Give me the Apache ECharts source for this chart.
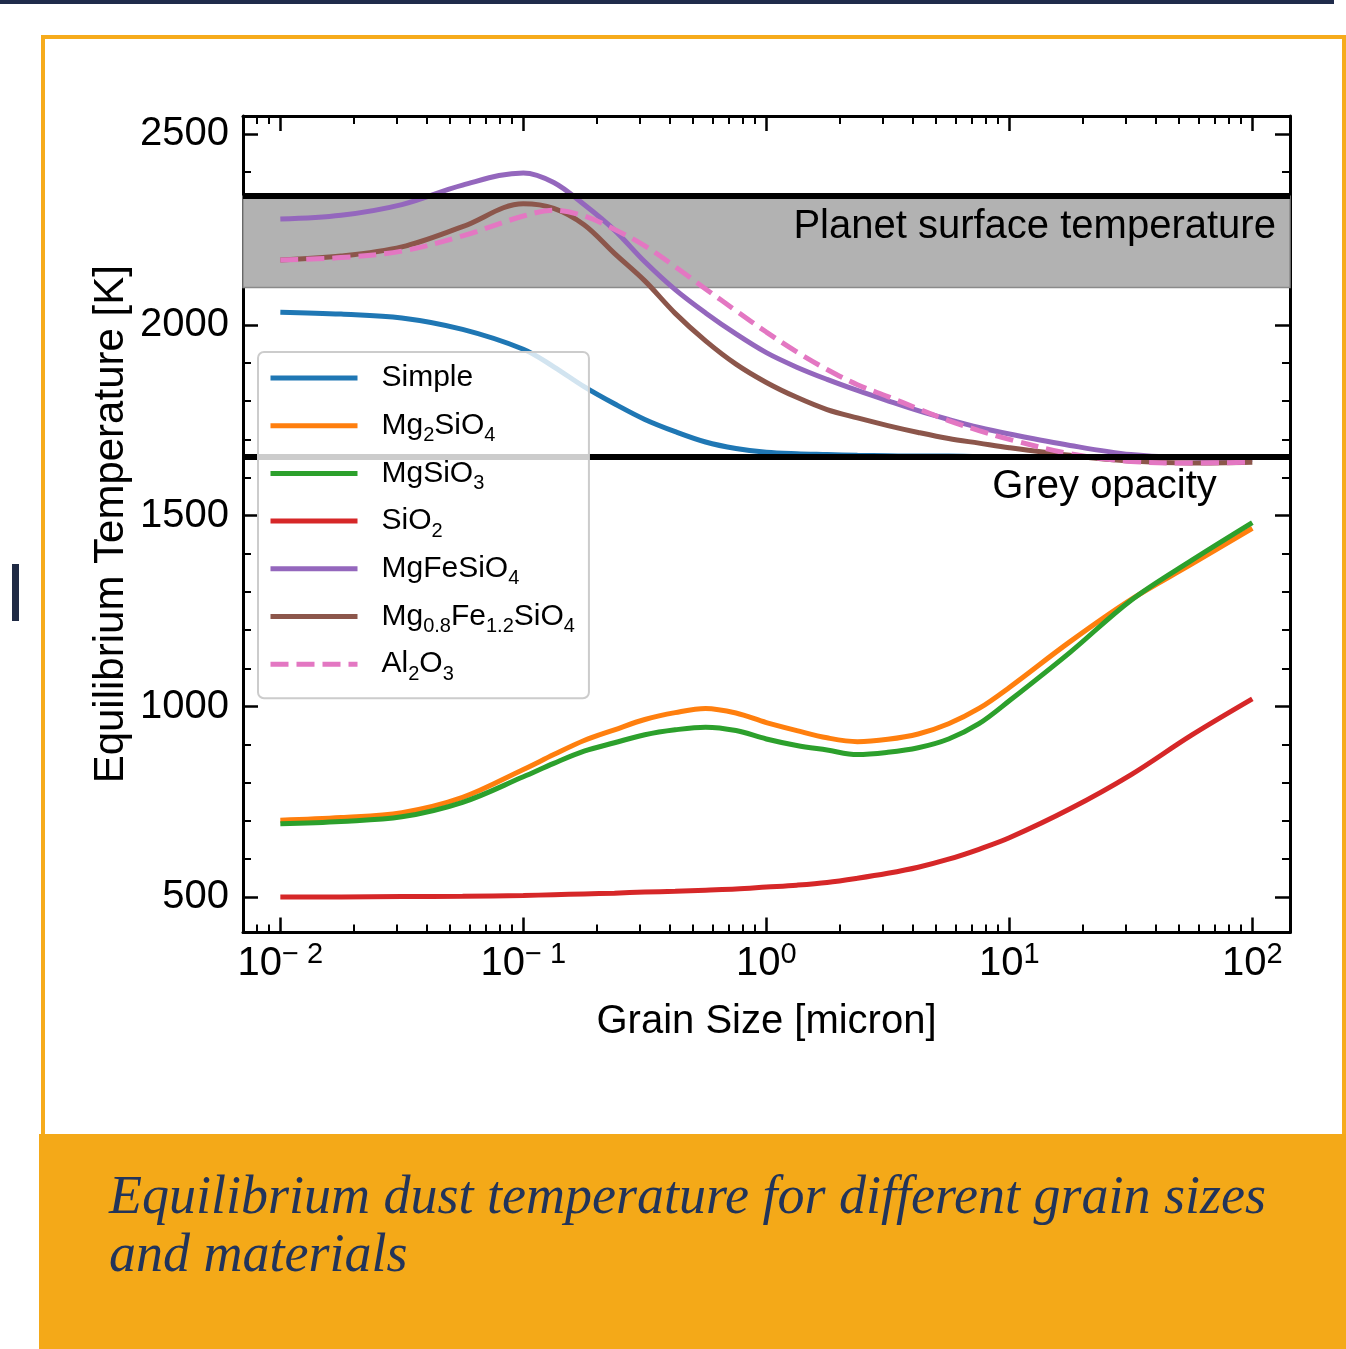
<!DOCTYPE html>
<html><head><meta charset="utf-8">
<script src="https://cdn.jsdelivr.net/npm/echarts@6/dist/echarts.min.js"></script>
<style>
html,body{margin:0;padding:0;background:#fff;}
#page{position:relative;width:1346px;height:1349px;overflow:hidden;background:#fff;}
#topbar{position:absolute;left:0;top:0;width:1334px;height:4px;background:#1f2b4b;}
#sidebar{position:absolute;left:12px;top:564px;width:7px;height:57px;background:#1f2a44;}
#frame{position:absolute;left:41px;top:35px;width:1305px;height:1100px;box-sizing:border-box;border:4px solid #f6ab1c;border-bottom:none;}
#caption{position:absolute;left:39px;top:1134px;width:1307px;height:215px;background:#f4a918;}
#captext{position:absolute;left:70px;top:32px;font-family:"Liberation Serif",serif;font-style:italic;font-size:54px;line-height:58px;color:#22345a;white-space:nowrap;}
#chart{position:absolute;left:0;top:0;width:1346px;height:1349px;}
</style></head>
<body><div id="page">
<div id="topbar"></div><div id="sidebar"></div><div id="frame"></div>
<div id="caption"><div id="captext">Equilibrium dust temperature for different grain sizes<br>and materials</div></div>
<div id="chart"></div>
</div>
<script>
const grainSize = [0.01, 0.01778, 0.03162, 0.05623, 0.1, 0.1334, 0.1778, 0.2371, 0.3162, 0.4217, 0.5623, 0.7499, 1, 1.334, 1.778, 2.371, 3.162, 4.217, 5.623, 7.499, 10, 17.78, 31.62, 56.23, 100];
const simple       = [2033, 2028, 2018, 1988, 1936, 1890, 1838, 1793, 1752, 1720, 1693, 1676, 1666, 1662, 1660, 1658, 1657, 1656, 1656, 1655, 1655, 1655, 1655, 1655, 1655];
const mg2sio4      = [702, 709, 722, 762, 835, 874, 911, 939, 966, 984, 995, 983, 958, 937, 918, 908, 914, 928, 955, 995, 1050, 1170, 1280, 1373, 1467];
const mgsio3       = [693, 699, 711, 749, 816, 851, 883, 905, 926, 939, 946, 937, 915, 898, 886, 874, 880, 892, 915, 955, 1015, 1142, 1278, 1383, 1482];
const sio2         = [501, 501, 502, 503, 505, 507, 509, 511, 514, 516, 519, 522, 527, 532, 539, 550, 563, 579, 600, 626, 656, 732, 821, 925, 1020];
const mgfesio4     = [2277, 2287, 2315, 2366, 2398, 2373, 2315, 2248, 2165, 2092, 2031, 1976, 1927, 1889, 1857, 1828, 1801, 1775, 1752, 1731, 1714, 1684, 1660, 1651, 1647];
const mg08fe12sio4 = [2170, 2180, 2204, 2257, 2317, 2305, 2262, 2187, 2115, 2030, 1958, 1897, 1849, 1810, 1778, 1756, 1736, 1718, 1702, 1690, 1678, 1658, 1643, 1638, 1640];
const al2o3        = [2170, 2176, 2193, 2233, 2285, 2300, 2285, 2250, 2207, 2152, 2094, 2037, 1981, 1929, 1883, 1843, 1812, 1780, 1749, 1723, 1700, 1662, 1642, 1638, 1640];

const seriesNames  = ['Simple', 'Mg2SiO4', 'MgSiO3', 'SiO2', 'MgFeSiO4', 'Mg0.8Fe1.2SiO4', 'Al2O3'];
const legendLabels = ['Simple', 'Mg{s|2}SiO{s|4}', 'MgSiO{s|3}', 'SiO{s|2}', 'MgFeSiO{s|4}', 'Mg{s|0.8}Fe{s|1.2}SiO{s|4}', 'Al{s|2}O{s|3}'];
const seriesColors = ['#1f77b4', '#ff7f0e', '#2ca02c', '#d62728', '#9467bd', '#8c564b', '#e377c2'];

const surfaceBand = [2098, 2337];
const greyOpacity = 1654;
const annotations = [
  { text: 'Planet surface temperature', x: 125.6, y: 2255 },
  { text: 'Grey opacity', x: 71.8, y: 1574 }
];

const xRange = [0.00702, 142.9];
const yRange = [408, 2547];
const xMajorTicks = [0.01, 0.1, 1, 10, 100];
const xTickExponents = ['\u2212 2', '\u2212 1', '0', '1', '2'];
const xMinorTicks = [0.008, 0.009, 0.02, 0.03, 0.04, 0.05, 0.06, 0.07, 0.08, 0.09, 0.2, 0.3, 0.4, 0.5, 0.6, 0.7, 0.8, 0.9, 2, 3, 4, 5, 6, 7, 8, 9, 20, 30, 40, 50, 60, 70, 80, 90];
const yMajorTicks = [500, 1000, 1500, 2000, 2500];
const yMinorTicks = [600, 700, 800, 900, 1100, 1200, 1300, 1400, 1600, 1700, 1800, 1900, 2100, 2200, 2300, 2400];

const F = '"Liberation Sans",Arial,sans-serif';
const allValues = [simple, mg2sio4, mgsio3, sio2, mgfesio4, mg08fe12sio4, al2o3];

const chart = echarts.init(document.getElementById('chart'), null, { renderer: 'canvas' });
const axisLine = { show: true, onZero: false, lineStyle: { color: '#000', width: 3 } };
const majorTick = (vals) => ({ show: true, inside: true, length: 15, lineStyle: { color: '#000', width: 2.5 }, customValues: vals });
const minorTick = (vals) => ({ show: true, inside: true, length: 8, lineStyle: { color: '#000', width: 2 }, customValues: vals });
const xBase = { type: 'log', logBase: 10, min: xRange[0], max: xRange[1], gridIndex: 0, splitLine: { show: false }, silent: true };
const yBase = { type: 'value', min: yRange[0], max: yRange[1], gridIndex: 0, splitLine: { show: false }, silent: true };

const series = allValues.map((vals, i) => ({
  name: seriesNames[i], type: 'line', xAxisIndex: 0, yAxisIndex: 0,
  symbol: 'none', smooth: 0.35, silent: true, z: 2,
  lineStyle: { color: seriesColors[i], width: 5, type: i === 6 ? [18, 8] : 'solid' },
  itemStyle: { color: seriesColors[i] },
  data: grainSize.map((g, j) => [g, vals[j]])
}));
series[0].markArea = {
  silent: true,
  itemStyle: { color: '#b2b2b2', borderColor: '#8a8a8a', borderWidth: 1.5 },
  data: [[{ yAxis: surfaceBand[0] }, { yAxis: surfaceBand[1] }]]
};
series[0].markLine = {
  silent: true, symbol: 'none', animation: false,
  label: { show: false },
  lineStyle: { color: '#000', width: 6, type: 'solid' },
  data: [{ yAxis: surfaceBand[1] }, { yAxis: greyOpacity }]
};
series[0].markPoint = {
  silent: true, symbol: 'circle', symbolSize: 1,
  itemStyle: { color: 'rgba(0,0,0,0)' },
  label: { show: true, position: 'left', distance: 0, color: '#000', fontSize: 40, fontFamily: F, formatter: p => p.name },
  data: annotations.map(a => ({ name: a.text, coord: [a.x, a.y] }))
};

chart.setOption({
  animation: false,
  backgroundColor: 'transparent',
  grid: { left: 243, top: 116, width: 1047, height: 816.5, containLabel: false, outerBoundsMode: 'none' },
  legend: {
    data: seriesNames, orient: 'vertical', left: 258, top: 352, z: 10,
    padding: [6, 14, 14, 10], itemGap: 7.7, itemWidth: 87, itemHeight: 4,
    backgroundColor: 'rgba(255,255,255,0.8)', borderColor: '#cccccc', borderWidth: 2, borderRadius: 6,
    selectedMode: false,
    itemStyle: { opacity: 0 },
    lineStyle: { width: 5 },
    formatter: name => legendLabels[seriesNames.indexOf(name)],
    textStyle: {
      fontFamily: F, fontSize: 30, color: '#000', lineHeight: 40, padding: [0, 0, 0, 19],
      rich: { s: { fontFamily: F, fontSize: 20, lineHeight: 20, verticalAlign: 'bottom', color: '#000' } }
    }
  },
  xAxis: [
    Object.assign({}, xBase, {
      position: 'bottom', axisLine: axisLine, axisTick: majorTick(xMajorTicks),
      axisLabel: {
        show: true, customValues: xMajorTicks, margin: 8, color: '#000',
        formatter: v => {
          const k = xMajorTicks.findIndex(t => Math.abs(Math.log10(t) - Math.log10(v)) < 1e-6);
          return '{b|10}{p|' + xTickExponents[k] + '}';
        },
        rich: {
          b: { fontFamily: F, fontSize: 40, lineHeight: 46, color: '#000' },
          p: { fontFamily: F, fontSize: 29, lineHeight: 26, verticalAlign: 'top', color: '#000' }
        }
      },
      name: 'Grain Size [micron]', nameLocation: 'middle', nameGap: 69, nameMoveOverlap: false,
      nameTextStyle: { fontFamily: F, fontSize: 40, color: '#000' }
    }),
    Object.assign({}, xBase, { position: 'bottom', axisLine: { show: false }, axisTick: minorTick(xMinorTicks), axisLabel: { show: false } }),
    Object.assign({}, xBase, { position: 'top', axisLine: axisLine, axisTick: majorTick(xMajorTicks), axisLabel: { show: false } }),
    Object.assign({}, xBase, { position: 'top', axisLine: { show: false }, axisTick: minorTick(xMinorTicks), axisLabel: { show: false } })
  ],
  yAxis: [
    Object.assign({}, yBase, {
      position: 'left', axisLine: axisLine, axisTick: majorTick(yMajorTicks),
      axisLabel: { show: true, customValues: yMajorTicks, margin: 14, color: '#000', fontFamily: F, fontSize: 40, formatter: v => String(v) },
      name: 'Equilibrium Temperature [K]', nameLocation: 'middle', nameGap: 111, nameMoveOverlap: false,
      nameTextStyle: { fontFamily: F, fontSize: 42, color: '#000' }
    }),
    Object.assign({}, yBase, { position: 'left', axisLine: { show: false }, axisTick: minorTick(yMinorTicks), axisLabel: { show: false } }),
    Object.assign({}, yBase, { position: 'right', axisLine: axisLine, axisTick: majorTick(yMajorTicks), axisLabel: { show: false } }),
    Object.assign({}, yBase, { position: 'right', axisLine: { show: false }, axisTick: minorTick(yMinorTicks), axisLabel: { show: false } })
  ],
  series: series
});
</script>
</body></html>
